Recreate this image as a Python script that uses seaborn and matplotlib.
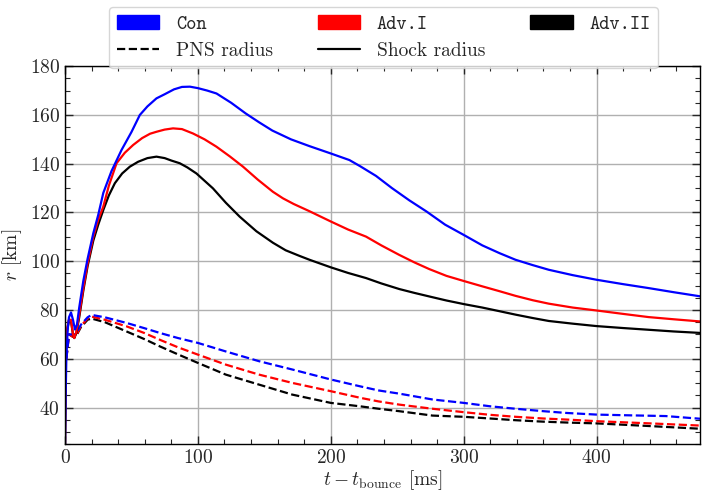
import matplotlib
matplotlib.use("Agg")
import matplotlib.pyplot as plt
import seaborn as sns
from matplotlib.patches import Patch
from matplotlib.lines import Line2D
from matplotlib.ticker import MultipleLocator

# shock radius [km] vs t - t_bounce [ms]
con_shock_t = [0, 0.5, 1, 2, 3, 4.5, 6, 7.5, 9, 10.7, 13.8, 17, 21.3, 25, 28.8, 35, 42.5, 50,
               56.3, 62, 68.8, 75, 82, 88, 94, 100, 107, 114, 125, 136, 146, 156, 170, 184,
               200, 214, 222, 234, 246, 259, 272, 286, 300, 314, 327, 339, 352, 364, 382,
               400, 420, 439, 458, 478]
con_shock_r = [25, 45, 60, 72, 77, 79, 76, 72, 74, 81, 92, 101, 111.5, 119, 128, 137, 145.6, 153,
               160, 163.5, 166.8, 168.5, 170.5, 171.5, 171.6, 171, 170, 168.8, 165, 160.6, 157,
               153.6, 150, 147.2, 144.2, 141.5, 139, 135, 130, 125, 120.4, 115, 110.8, 106.5,
               103.3, 100.6, 98.4, 96.5, 94.3, 92.4, 90.6, 89, 87.3, 85.6]

adv1_shock_t = [0, 0.7, 1.5, 3, 4.5, 6, 7, 8.5, 10.7, 13.8, 17, 21.3, 25, 28.8, 33, 38.8, 45,
                51.3, 58, 64, 68.8, 75, 81.3, 88, 96.3, 105, 113.9, 124, 133.9, 145, 156.4,
                164, 172, 184, 200, 213, 226.5, 238, 251.5, 263, 274, 287, 300, 314, 327, 339,
                352, 364, 382, 400, 420, 439, 458, 478]
adv1_shock_r = [25, 68, 72, 76, 76, 70, 68.5, 71, 78, 89, 99, 110, 117, 122.4, 131, 140.2, 144.5,
                147.7, 150.5, 152.3, 153.1, 154, 154.5, 154.2, 152.4, 150, 147, 143, 138.8,
                133.5, 128.5, 125.8, 123.5, 120.5, 116.3, 113, 110.1, 106.5, 102.6, 99.5, 96.8,
                94, 91.9, 89.7, 87.7, 85.8, 84, 82.6, 81, 79.8, 78.4, 77.1, 76.2, 75.3]

adv2_shock_t = [0, 0.7, 1.5, 3, 4.5, 6, 7, 8.5, 10.7, 13.8, 17, 21.3, 25, 28.8, 33, 37.5, 43,
                48.8, 55, 62, 68.8, 75, 80, 86.3, 92, 98.9, 105, 111.3, 121, 131.4, 144, 156.4,
                166, 176.4, 184, 200, 213, 226.5, 238, 251.5, 263, 275.3, 287, 300.3, 314, 327,
                339, 352, 364, 382, 400, 420, 439, 458, 478]
adv2_shock_r = [25, 66, 71, 76, 75.5, 70, 68.5, 70.5, 77, 88, 98, 108.5, 115, 121, 127, 132, 136,
                138.8, 140.8, 142.3, 142.9, 142.3, 141.3, 140.2, 138.5, 136, 133, 129.9, 124,
                118.3, 112.3, 107.6, 104.5, 102.2, 100.6, 97.5, 95.2, 93.1, 90.9, 88.6, 87, 85.4,
                83.9, 82.4, 81, 79.5, 78.1, 76.7, 75.5, 74.4, 73.4, 72.6, 71.9, 71.2, 70.6]

# PNS radius [km]
con_pns_t = [1, 3, 6, 8, 12, 17, 20, 30, 46.3, 60, 71.3, 85, 100, 121, 146, 171, 200, 222, 236,
             251.5, 276.5, 300, 320, 339, 360, 376.6, 400, 425, 452, 478]
con_pns_r = [60, 70, 70, 70, 74, 77, 78, 77, 74.7, 72.5, 70.6, 68.5, 66.5, 63, 59, 55.6, 51.5,
             48.7, 47, 45.7, 43.3, 41.9, 40.5, 39.5, 38.5, 37.8, 37.1, 36.8, 36.5, 35.4]

adv1_pns_t = [1, 3, 6, 8, 12, 17, 20, 30, 46.3, 60, 71.3, 85, 100, 121, 146, 171, 200, 222, 236,
              251.5, 276.5, 300, 320, 339, 360, 380, 400, 440, 478]
adv1_pns_r = [60, 70, 69, 69, 73.5, 76.5, 77.3, 76, 73.3, 70.5, 67.8, 64.7, 61.7, 57.6, 53.5,
              50.1, 46.7, 44, 42.5, 41.2, 39.5, 38.1, 37, 36.2, 35.5, 35, 34.4, 33.5, 32.6]

adv2_pns_t = [1, 3, 6, 8, 12, 17, 20, 30, 46.3, 60, 71.3, 85, 100, 121, 146, 171, 200, 222, 236,
              251.5, 276.5, 300, 320, 339, 360, 380, 400, 440, 478]
adv2_pns_r = [60, 70, 69, 69, 73, 76, 76.5, 75, 71.2, 68, 65.1, 61.8, 58.3, 53.5, 49.4, 45.3,
              41.9, 40.5, 39.5, 38.5, 36.7, 36.2, 35.5, 34.8, 34.2, 33.8, 33.5, 32.4, 31.3]

models = ["Con", "Adv.I", "Adv.II"]
colors = {"Con": "blue", "Adv.I": "red", "Adv.II": "black"}

sns.set_style("ticks")
plt.rcParams["font.family"] = "serif"
plt.rcParams["font.serif"] = ["cmr10", "DejaVu Serif"]
plt.rcParams["mathtext.fontset"] = "cm"
plt.rcParams["axes.formatter.use_mathtext"] = True
plt.rcParams["axes.unicode_minus"] = False

FS = 14

fig = plt.figure(figsize=(7.02, 4.94), dpi=100)
ax = fig.add_axes([0.0926, 0.101, 0.905, 0.765])

series = [
    ("Adv.II", adv2_shock_t, adv2_shock_r, adv2_pns_t, adv2_pns_r),
    ("Adv.I", adv1_shock_t, adv1_shock_r, adv1_pns_t, adv1_pns_r),
    ("Con", con_shock_t, con_shock_r, con_pns_t, con_pns_r),
]
for name, st, sr, pt, pr in series:
    sns.lineplot(x=pt, y=pr, ax=ax, color=colors[name], linestyle="--", lw=1.6,
                 estimator=None, sort=False)
for name, st, sr, pt, pr in series:
    sns.lineplot(x=st, y=sr, ax=ax, color=colors[name], lw=1.6, estimator=None, sort=False)

ax.set_xlim(0, 478)
ax.set_ylim(25, 180)
ax.xaxis.set_major_locator(MultipleLocator(100))
ax.xaxis.set_minor_locator(MultipleLocator(20))
ax.yaxis.set_major_locator(MultipleLocator(20))
ax.yaxis.set_minor_locator(MultipleLocator(5))
ax.tick_params(which="both", direction="in", top=True, right=True, labelsize=FS)
ax.tick_params(which="major", length=6, width=1)
ax.tick_params(which="minor", length=3.5, width=0.8)
ax.grid(True, which="major", color="#b0b0b0", lw=1)
for s in ax.spines.values():
    s.set_linewidth(1)
    s.set_color("black")

ax.set_xlabel(r"$t-t_{\rm bounce}$ [ms]", fontsize=FS, labelpad=1)
ax.set_ylabel(r"$r$ [km]", fontsize=FS, labelpad=4)

handles = [
    Patch(color="blue"), Line2D([], [], color="black", ls="--", lw=1.6),
    Patch(color="red"), Line2D([], [], color="black", lw=1.6),
    Patch(color="black"),
]
labels = ["Con", "PNS radius", "Adv.I", "Shock radius", "Adv.II"]
leg = fig.legend(handles, labels, loc="upper center", bbox_to_anchor=(0.5463, 1.006), ncol=3,
                 fontsize=FS, handlelength=2.2, handleheight=0.78, columnspacing=2.3,
                 labelspacing=0.45, handletextpad=0.85, frameon=True)
for txt in leg.get_texts():
    if txt.get_text() in models:
        txt.set_family("monospace")
        txt.set_fontname("cmtt10")

fig.savefig("out.png", dpi=100)
